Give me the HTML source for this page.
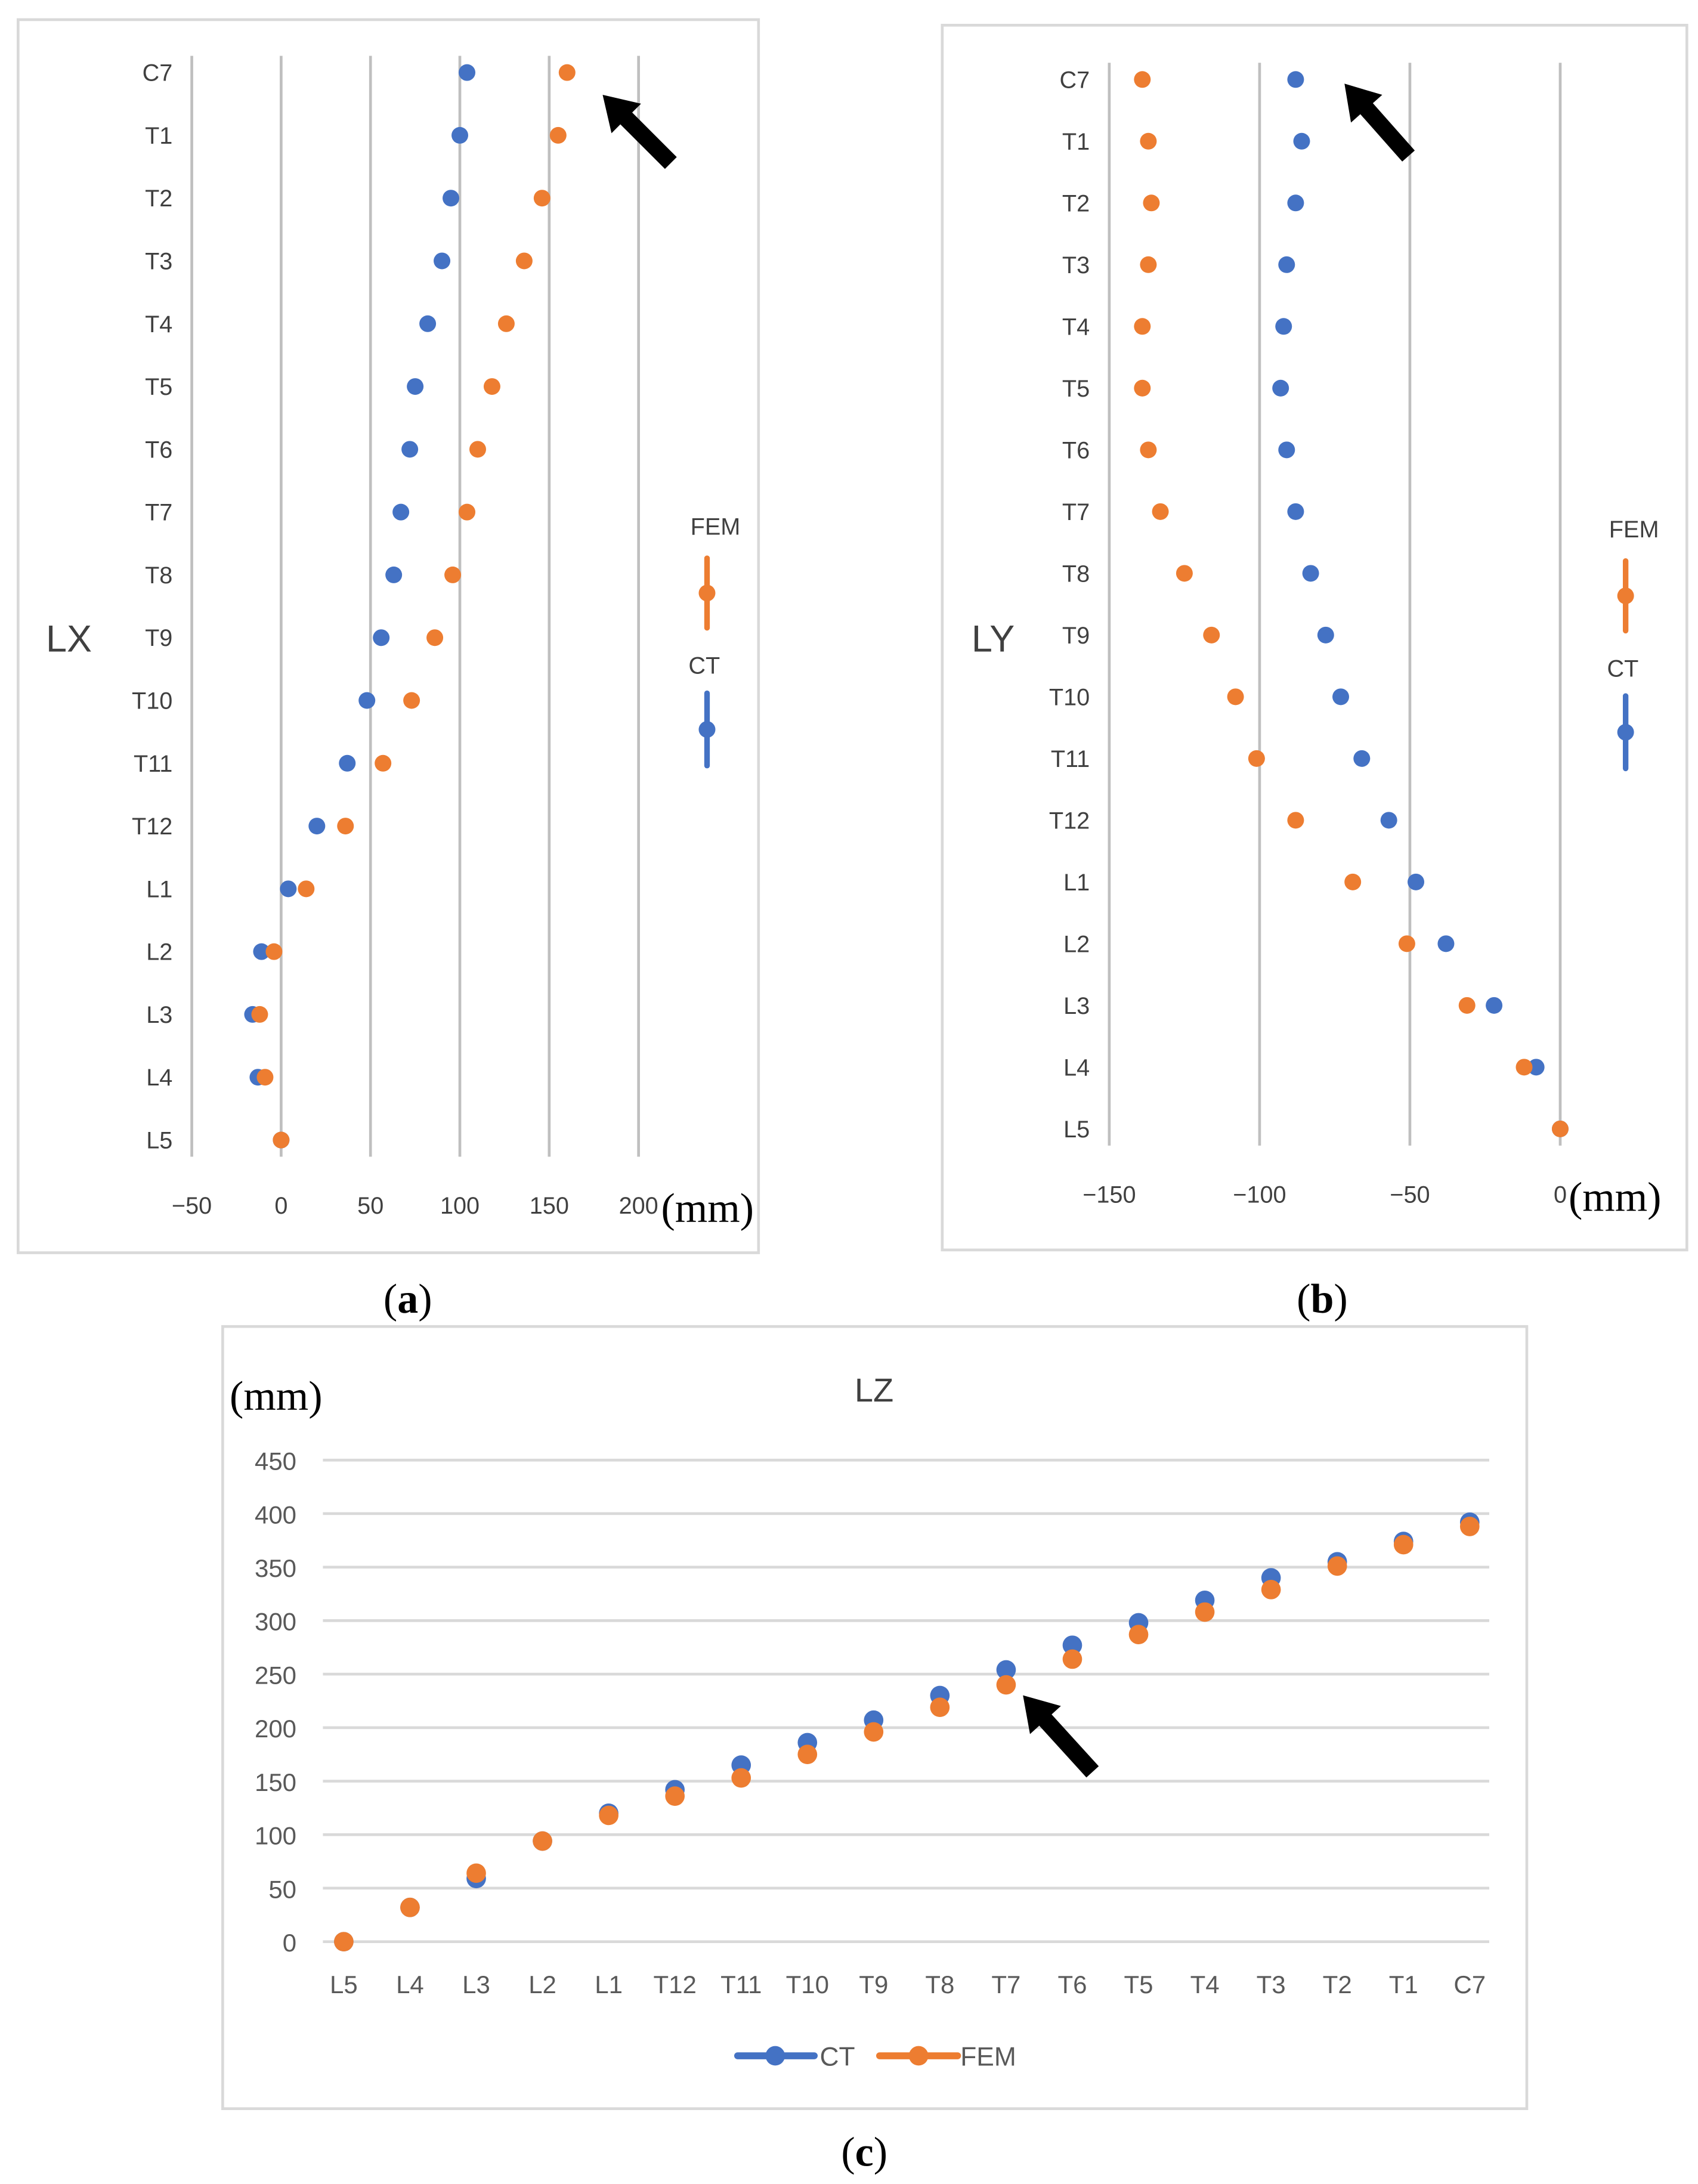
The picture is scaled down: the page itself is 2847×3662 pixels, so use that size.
<!DOCTYPE html>
<html><head><meta charset="utf-8"><style>
html,body{margin:0;padding:0;background:#fff;}
svg{display:block;}
</style></head><body>
<svg id="fig" width="2847" height="3662" viewBox="0 0 1220 1569" xmlns="http://www.w3.org/2000/svg" font-family="Liberation Sans, sans-serif">
<rect x="0" y="0" width="1220" height="1569" fill="#fff"/>
<rect x="13" y="14" width="532" height="886" fill="none" stroke="#d9d9d9" stroke-width="2"/>
<rect x="677" y="18" width="535" height="880" fill="none" stroke="#d9d9d9" stroke-width="2"/>
<rect x="160" y="953" width="937" height="562" fill="none" stroke="#d9d9d9" stroke-width="2"/>
<g id="ga"></g>
<g id="gb"></g>
<g id="gc"></g>
<text x="293" y="943" font-family="Liberation Serif, serif" font-size="30" text-anchor="middle">(<tspan font-weight="bold">a</tspan>)</text>
<text x="950" y="943" font-family="Liberation Serif, serif" font-size="30" text-anchor="middle">(<tspan font-weight="bold">b</tspan>)</text>
<text x="621" y="1556" font-family="Liberation Serif, serif" font-size="30" text-anchor="middle">(<tspan font-weight="bold">c</tspan>)</text>
</svg>
<script>
const NS='http://www.w3.org/2000/svg';
const BLUE='#4472C4', ORANGE='#ED7D31';
const vertLabels=['C7','T1','T2','T3','T4','T5','T6','T7','T8','T9','T10','T11','T12','L1','L2','L3','L4','L5'];
const lxCT=[104,100,95,90,82,75,72,67,63,56,48,37,20,4,-11,-16,-13,0];
const lxFEM=[160,155,146,136,126,118,110,104,96,86,73,57,36,14,-4,-12,-9,0];
const lxTicks=[-50,0,50,100,150,200];
const lyCT=[-88,-86,-88,-91,-92,-93,-91,-88,-83,-78,-73,-66,-57,-48,-38,-22,-8,0];
const lyFEM=[-139,-137,-136,-137,-139,-139,-137,-133,-125,-116,-108,-101,-88,-69,-51,-31,-12,0];
const lyTicks=[-150,-100,-50,0];
const lzCats=['L5','L4','L3','L2','L1','T12','T11','T10','T9','T8','T7','T6','T5','T4','T3','T2','T1','C7'];
const lzCT=[0,32,59,94,120,142,165,186,207,230,254,277,298,319,340,355,374,392];
const lzFEM=[0,32,64,94,118,136,153,175,196,219,240,264,287,308,329,351,371,388];
const lzTicks=[0,50,100,150,200,250,300,350,400,450];

function mk(p,tag,attrs,txt){const e=document.createElementNS(NS,tag);for(const k in attrs)e.setAttribute(k,attrs[k]);if(txt!==undefined)e.textContent=txt;p.appendChild(e);return e;}
function arrow(p,tx,ty,sx,sy,name){
  const dx=sx-tx,dy=sy-ty,L=Math.hypot(dx,dy),ux=dx/L,uy=dy/L,px=-uy,py=ux;
  const hl=24,hw=15,sw=6;
  const pts=[[tx,ty],[tx+ux*hl+px*hw,ty+uy*hl+py*hw],[tx+ux*hl+px*sw,ty+uy*hl+py*sw],[sx+px*sw,sy+py*sw],[sx-px*sw,sy-py*sw],[tx+ux*hl-px*sw,ty+uy*hl-py*sw],[tx+ux*hl-px*hw,ty+uy*hl-py*hw]];
  const e=mk(p,'polygon',{points:pts.map(q=>q.join(',')).join(' '),fill:'#000'});
  
  
}
function horizChart(g,ct,fem,ticks,x0px,v0,pxPer,rowTop,rowGap,labelX,axisName,axX,legX,opts){
  const sx=v=>x0px+(v-v0)*pxPer, sy=i=>rowTop+i*rowGap;
  ticks.forEach(t=>{
    const l=mk(g,'line',{x1:sx(t),x2:sx(t),y1:rowTop-12,y2:sy(17)+12,stroke:'#bfbfbf','stroke-width':2});
    
    
    const tx=mk(g,'text',{x:sx(t),y:opts.tickY,'font-size':17,fill:'#404040','text-anchor':'middle'},t<0?'\u2212'+(-t):String(t));
    
    
  });
  vertLabels.forEach((c,i)=>{
    const t=mk(g,'text',{x:labelX,y:sy(i)+6,'font-size':17,fill:'#404040','text-anchor':'end'},c);
    
    
  });
  vertLabels.forEach((c,i)=>{
    const b=mk(g,'circle',{cx:sx(ct[i]),cy:sy(i),r:6,fill:BLUE});
    
    
  });
  vertLabels.forEach((c,i)=>{
    const o=mk(g,'circle',{cx:sx(fem[i]),cy:sy(i),r:6,fill:ORANGE});
    
    
  });
  const ax=mk(g,'text',{x:axX,y:468,'font-size':27,fill:'#404040'},axisName);
  
  
  const mm=mk(g,'text',{x:opts.mmX,y:opts.tickY+6,'font-size':30,'font-family':'Liberation Serif, serif',fill:'#000'},'(mm)');
  
  
  const ft=mk(g,'text',{x:legX+6,y:opts.legY,'font-size':17,fill:'#404040','text-anchor':'middle'},'FEM');
  
  
  const fl=mk(g,'line',{x1:legX,x2:legX,y1:opts.legY+17,y2:opts.legY+67,stroke:ORANGE,'stroke-width':4,'stroke-linecap':'round'});
  
  
  mk(g,'circle',{cx:legX,cy:opts.legY+42,r:6,fill:ORANGE});
  const ctt=mk(g,'text',{x:legX-2,y:opts.legY+100,'font-size':17,fill:'#404040','text-anchor':'middle'},'CT');
  
  
  const cl=mk(g,'line',{x1:legX,x2:legX,y1:opts.legY+114,y2:opts.legY+166,stroke:BLUE,'stroke-width':4,'stroke-linecap':'round'});
  
  
  mk(g,'circle',{cx:legX,cy:opts.legY+140,r:6,fill:BLUE});
}
horizChart(document.getElementById('ga'),lxCT,lxFEM,lxTicks,202,0,64.2/50,52,(819-52)/17,124,'LX',33,508,{tickY:872,mmX:475,legY:384});
arrow(document.getElementById('ga'),433,68,482,117,'arrow-a');
horizChart(document.getElementById('gb'),lyCT,lyFEM,lyTicks,1121,0,108/50,57,(811-57)/17,783,'LY',698,1168,{tickY:864,mmX:1127,legY:386});
arrow(document.getElementById('gb'),966,60,1012,112,'arrow-b');

(function(){
  const g=document.getElementById('gc');
  const x0=247,gap=(1056-247)/17,y0=1395,per=346/450;
  const sx=i=>x0+i*gap, sy=v=>y0-v*per;
  lzTicks.forEach(t=>{
    const l=mk(g,'line',{x1:232,x2:1070,y1:sy(t),y2:sy(t),stroke:'#d9d9d9','stroke-width':2});
    
    
    const tx=mk(g,'text',{x:213,y:sy(t)+7,'font-size':18,fill:'#595959','text-anchor':'end'},String(t));
    
    
  });
  lzCats.forEach((c,i)=>{
    const t=mk(g,'text',{x:sx(i),y:1432,'font-size':18,fill:'#595959','text-anchor':'middle'},c);
    
    
  });
  lzCats.forEach((c,i)=>{
    const b=mk(g,'circle',{cx:sx(i),cy:sy(lzCT[i]),r:7,fill:BLUE});
    
    
  });
  lzCats.forEach((c,i)=>{
    const o=mk(g,'circle',{cx:sx(i),cy:sy(lzFEM[i]),r:7,fill:ORANGE});
    
    
  });
  const tt=mk(g,'text',{x:628,y:1007,'font-size':24,fill:'#404040','text-anchor':'middle'},'LZ');
  
  
  const mm=mk(g,'text',{x:165,y:1013,'font-size':30,'font-family':'Liberation Serif, serif',fill:'#000'},'(mm)');
  
  
  const l1=mk(g,'line',{x1:530,x2:585,y1:1477,y2:1477,stroke:BLUE,'stroke-width':5,'stroke-linecap':'round'});
  
  
  mk(g,'circle',{cx:557,cy:1477,r:7,fill:BLUE});
  const t1=mk(g,'text',{x:589,y:1484,'font-size':19,fill:'#595959'},'CT');
  
  
  const l2=mk(g,'line',{x1:632,x2:688,y1:1477,y2:1477,stroke:ORANGE,'stroke-width':5,'stroke-linecap':'round'});
  
  
  mk(g,'circle',{cx:660,cy:1477,r:7,fill:ORANGE});
  const t2=mk(g,'text',{x:690,y:1484,'font-size':19,fill:'#595959'},'FEM');
  
  
  arrow(g,735,1218,785,1273,'arrow-c');
})();
</script>
</body></html>
